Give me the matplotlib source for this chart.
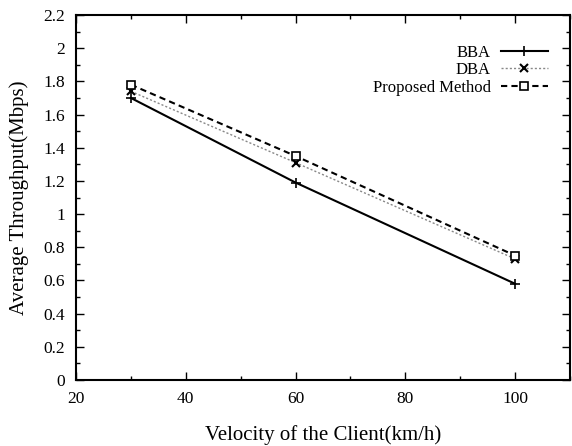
import matplotlib
matplotlib.use("Agg")
import matplotlib.pyplot as plt
from matplotlib.ticker import MultipleLocator

velocity = [30, 60, 100]
bba = [1.70, 1.19, 0.58]
dba = [1.74, 1.31, 0.73]
proposed = [1.78, 1.35, 0.75]
series_names = ["BBA", "DBA", "Proposed Method"]
x_ticks = [20, 40, 60, 80, 100]
y_ticks = [0, 0.2, 0.4, 0.6, 0.8, 1, 1.2, 1.4, 1.6, 1.8, 2, 2.2]

plt.rcParams['font.family'] = ['Liberation Serif', 'DejaVu Serif']

fig = plt.figure(figsize=(5.72, 4.46), dpi=100)
ax = fig.add_axes([76/572, 1-380/446, (570-76)/572, (380-15)/446])

ax.plot(velocity, bba, color='black', lw=1.5, marker='+', ms=7, mew=1.2, label=series_names[0])
ax.plot(velocity, dba, color='#888888', lw=1.0, ls=(0, (1.5, 1.5)), marker='x', ms=6,
        mew=1.5, mec='black', label=series_names[1])
ax.plot(velocity, proposed, color='black', lw=1.5, ls=(0, (3, 2)), marker='s', ms=6,
        mfc='white', mec='black', mew=1.2, label=series_names[2])

ax.set_xlim(20, 110)
ax.set_ylim(0, 2.2)
ax.set_xticks(x_ticks)
ax.set_yticks(y_ticks)
ax.set_yticklabels([f"{v:g}" for v in y_ticks])
ax.xaxis.set_minor_locator(MultipleLocator(10))
ax.yaxis.set_minor_locator(MultipleLocator(0.1))
ax.tick_params(which='both', direction='in', top=True, right=True, labelsize=12.5, width=1)
ax.tick_params(which='major', length=6, pad=8)
ax.tick_params(which='minor', length=3)
for s in ax.spines.values():
    s.set_linewidth(1.5)

ax.set_xlabel("Velocity of the Client(km/h)", fontsize=15, labelpad=13)
ax.set_ylabel("Average Throughput(Mbps)", fontsize=15, labelpad=10)

leg = ax.legend(loc='upper right', bbox_to_anchor=(0.985, 0.96), frameon=False,
                markerfirst=False, fontsize=12, handlelength=2.8, labelspacing=0.1,
                handletextpad=0.6)

fig.savefig("out.png", dpi=100)
